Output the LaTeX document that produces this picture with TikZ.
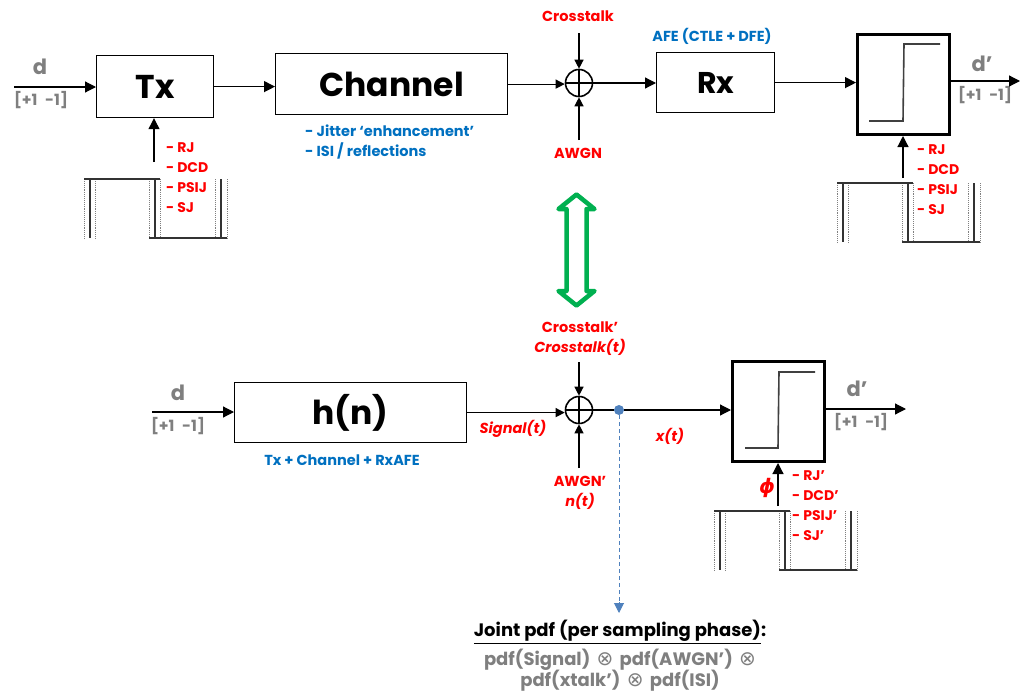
\documentclass[tikz,border=0pt]{standalone}
\usepackage{fontspec}
\setmainfont{Poppins}
\newfontfamily\symfont{DejaVu Sans}
\usetikzlibrary{arrows.meta}
\definecolor{myred}{HTML}{FF0000}
\definecolor{myblue}{HTML}{0070C0}
\definecolor{mygray}{HTML}{7F7F7F}
\definecolor{mygreen}{HTML}{00B050}
\definecolor{dotblue}{HTML}{4F81BD}
\newcommand\jitclock[2]{%
  \begin{scope}[shift={(#1,#2)}]
    \draw[clkdot] (0,0) -- (0,59);
    \draw[clksolid] (6,0) -- (6,59);
    \draw[clkdot] (11,0) -- (11,59);
    \draw[clkdot] (65,0) -- (65,59);
    \draw[clksolid] (71,0) -- (71,59);
    \draw[clkdot] (76,0) -- (76,59);
    \draw[clkdot] (131,0) -- (131,59);
    \draw[clksolid] (137,0) -- (137,59);
    \draw[clkdot] (143,0) -- (143,59);
    \draw[clksolid] (0,0) -- (76,0);
    \draw[clksolid] (65,59) -- (143,59);
  \end{scope}}
\newcommand\otm{\hspace{0.35em}{\symfont\mdseries\fontsize{20}{20}\selectfont ⊗}\hspace{0.35em}}
\begin{document}
\begin{tikzpicture}[x=1pt,y=-1pt,
  blk/.style={draw, line width=1.2pt, inner sep=0pt, anchor=north west},
  decbox/.style={draw, line width=3pt, inner sep=0pt, anchor=north west, minimum width=92pt, minimum height=100pt},
  big/.style={font=\fontsize{33}{33}\selectfont\bfseries},
  arr/.style={-{Triangle[length=11pt,width=11pt]}, line width=1.2pt},
  sarr/.style={-{Triangle[length=9pt,width=9pt]}, line width=1.2pt},
  sumnode/.style={draw, circle, line width=1.6pt, minimum size=27pt, inner sep=0pt},
  redlbl/.style={text=myred, font=\fontsize{14.5}{14.5}\selectfont\bfseries, inner sep=0pt},
  redit/.style={text=myred, font=\fontsize{14.5}{14.5}\selectfont\bfseries\itshape, inner sep=0pt},
  bluelbl/.style={text=myblue, font=\fontsize{14.5}{14.5}\selectfont\bfseries, inner sep=0pt},
  dlbl/.style={text=mygray, font=\fontsize{21}{21}\selectfont\bfseries, inner sep=0pt},
  rangelbl/.style={text=mygray, font=\fontsize{15.5}{15.5}\selectfont\bfseries, inner sep=0pt},
  listlbl/.style={text=myred, font=\fontsize{14}{20}\selectfont\bfseries, align=left, anchor=north west, inner sep=0pt},
  clkdot/.style={draw=gray, densely dotted, line width=0.9pt},
  clksolid/.style={draw=black!80, line width=1.3pt},
  stepline/.style={draw=black!75, line width=1.6pt},
  pdflbl/.style={text=mygray, font=\fontsize{18}{18}\selectfont\bfseries, inner sep=0pt}
]
\useasboundingbox (0,0) rectangle (1021,696);

% ---------- top chain ----------
\node[blk, minimum width=117pt, minimum height=62pt, big] (tx) at (96,55) {Tx};
\node[blk, minimum width=232pt, minimum height=61pt, big] (ch) at (275,53) {Channel};
\node[sumnode] (sum1) at (579,83) {};
\draw[line width=1.4pt] (sum1.north) -- (sum1.south) (sum1.west) -- (sum1.east);
\node[blk, minimum width=118pt, minimum height=60pt, font=\fontsize{30}{30}\selectfont\bfseries] (rx) at (656,52) {Rx};
\node[decbox] (dec1) at (856,33) {};
\draw[stepline] (869,121) -- (903,121) -- (904,44) -- (940,44);

\coordinate (din1) at (14,87);
\coordinate (dout1) at (1020,81);
\node[dlbl] (d1) at (40,67) {d};
\node[rangelbl] (r1) at (41,100) {[+1\enspace-1]};
\node[dlbl] (dp1) at (982,64) {d’};
\node[rangelbl] (rp1) at (985,95) {[+1\enspace-1]};

\draw[arr] (din1) -- (din1 -| tx.west);
\draw[arr] (tx.east) -- (tx.east -| ch.west);
\draw[sarr] (ch.east) -- (ch.east -| sum1.west);
\draw[arr] (sum1.east) -- (sum1.east -| rx.west);
\draw[arr] (rx.east) -- (rx.east -| dec1.west);
\draw[arr] (dec1.east |- dout1) -- (dout1);

\node[redlbl] (xt1) at (578,16) {Crosstalk};
\node[redlbl] (aw1) at (578,153) {AWGN};
\coordinate (xt1s) at (579,33);
\coordinate (aw1s) at (579,140);
\draw[sarr] (xt1s) -- (sum1.north);
\draw[sarr] (aw1s) -- (sum1.south);
\node[bluelbl] (afe) at (712,36) {AFE (CTLE + DFE)};
\node[bluelbl, anchor=west] (ch1) at (305,131) {- Jitter ‘enhancement’};
\node[bluelbl, anchor=west] (ch2) at (305,151) {- ISI / reflections};

% clocks top
\jitclock{84}{179}
\coordinate (c1) at (154,162);
\draw[arr] (c1) -- (c1 |- tx.south);
\node[listlbl] (l1) at (166,142) {- RJ\\- DCD\\- PSIJ\\- SJ};

\jitclock{837}{183}
\coordinate (c2) at (903,178);
\draw[arr] (c2) -- (c2 |- dec1.south);
\node[listlbl] (l2) at (917,144) {- RJ\\- DCD\\- PSIJ\\- SJ};

% green double arrow
\draw[mygreen, line width=4.5pt, line join=round, fill=white]
  (576.5,194.5) -- (594.5,209) -- (586.5,209) -- (586.5,291) -- (594.5,291)
  -- (576.5,305.5) -- (558.5,291) -- (566.5,291) -- (566.5,209) -- (558.5,209) -- cycle;

% ---------- bottom chain ----------
\node[blk, minimum width=232pt, minimum height=60pt, big] (hn) at (234,382) {h(n)};
\node[sumnode] (sum2) at (579,410) {};
\draw[line width=1.4pt] (sum2.north) -- (sum2.south) (sum2.west) -- (sum2.east);
\node[circle, fill=dotblue, minimum size=10pt, inner sep=0pt] (tap) at (619,410) {};
\node[decbox] (dec2) at (731,360) {};
\draw[stepline] (745,448) -- (778,448) -- (779,372) -- (815,372);

\coordinate (din2) at (152,412);
\coordinate (dout2) at (906,409);
\node[dlbl] (d2) at (178,393) {d};
\node[rangelbl] (r2) at (178,426) {[+1\enspace-1]};
\node[dlbl] (dp2) at (857,389) {d’};
\node[rangelbl] (rp2) at (861,422) {[+1\enspace-1]};

\draw[arr] (din2) -- (din2 -| hn.west);
\draw[sarr] (hn.east) -- (hn.east -| sum2.west);
\draw[line width=1.2pt] (sum2.east) -- (tap);
\draw[arr] (tap) -- (tap -| dec2.west);
\draw[arr] (dec2.east |- dout2) -- (dout2);

\node[redlbl] (xt2) at (580,327) {Crosstalk’};
\node[redit] (xt2b) at (580,347) {Crosstalk(t)};
\node[redlbl] (aw2) at (580,481) {AWGN’};
\node[redit] (aw2b) at (580,501) {n(t)};
\coordinate (xt2s) at (579,362);
\coordinate (aw2s) at (579,468);
\draw[sarr] (xt2s) -- (sum2.north);
\draw[sarr] (aw2s) -- (sum2.south);
\node[redit] (sig) at (513,429) {Signal(t)};
\node[redit] (xt) at (670,436) {x(t)};
\node[bluelbl] (hlbl) at (342,460) {Tx + Channel + RxAFE};

\jitclock{714}{511}
\coordinate (c3) at (778,506);
\draw[arr] (c3) -- (c3 |- dec2.south);
\node[text=myred, font=\fontsize{20}{20}\selectfont\symfont\bfseries\itshape, inner sep=0pt] (phi) at (767,488) {ϕ};
\node[listlbl] (l3) at (792,470) {- RJ’\\- DCD’\\- PSIJ’\\- SJ’};

% joint pdf
\coordinate (pdfin) at (619,613);
\draw[dotblue, line width=1pt, dash pattern=on 4pt off 3pt] (tap) -- ([yshift=10pt]pdfin);
\draw[dotblue, -{Triangle[length=10pt,width=10pt]}, line width=1pt] ([yshift=11pt]pdfin) -- (pdfin);
\node[font=\fontsize{18}{18}\selectfont\bfseries, inner sep=0pt] (jp) at (620,632) {\underline{Joint pdf (per sampling phase)}:};
\node[pdflbl] (jp1) at (620,660) {pdf(Signal)\otm pdf(AWGN’)\otm};
\node[pdflbl] (jp2) at (620,681) {pdf(xtalk’)\otm pdf(ISI)};
\end{tikzpicture}
\end{document}
